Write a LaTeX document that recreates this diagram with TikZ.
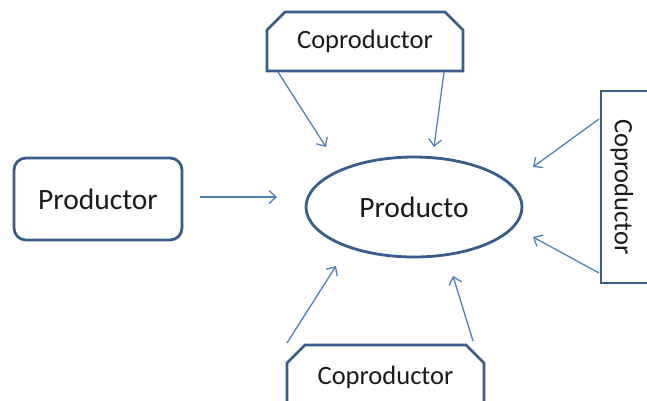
\documentclass[tikz,border=0pt]{standalone}
\usepackage{fontspec}
\setmainfont{Carlito}
\usetikzlibrary{shapes.geometric,shapes.misc,arrows.meta}
\definecolor{edgeblue}{RGB}{56,93,138}
\definecolor{arrowblue}{RGB}{79,129,189}
\definecolor{inktext}{RGB}{26,26,26}
\begin{document}
\begin{tikzpicture}[x=1pt,y=-1pt,
  boxline/.style={draw=edgeblue,line width=2.8pt,fill=white,inner sep=0pt,outer sep=0pt},
  flow/.style={draw=arrowblue,line width=1.3pt,
    -{Straight Barb[length=7pt,width=13pt,line width=1.3pt]}},
  bigtext/.style={font=\fontsize{29.5}{32}\selectfont,text=inktext},
  smalltext/.style={font=\fontsize{26.5}{30}\selectfont,text=inktext},
  coprod/.style={boxline,chamfered rectangle,
    chamfered rectangle xsep=9pt,chamfered rectangle ysep=9pt,
    chamfered rectangle corners={north west,north east}}
]
\path[use as bounding box] (0,0) rectangle (647,400);
\clip (0,0) rectangle (647,400);

% central product and main producer
\node[boxline,rounded corners=12pt,minimum width=168pt,minimum height=82pt,bigtext]
  (prod) at (98,199) {Productor};
\node[boxline,ellipse,minimum width=216pt,minimum height=100pt,bigtext]
  (pro) at (414,207) {Producto};

% co-producers
\node[coprod,minimum width=196pt,minimum height=59pt,smalltext]
  (ctop) at (365,41.5) {Coproductor};
\node[coprod,minimum width=197pt,minimum height=64pt,smalltext]
  (cbot) at (385.5,377) {Coproductor};
\node[coprod,rotate=-90,minimum width=192pt,minimum height=89pt]
  (cright) at (645.5,187) {};
\node[smalltext,rotate=-90] (crlabel) at (622,187) {Coproductor};

% arrow end points
\coordinate (a0s) at (200,197);  \coordinate (a0e) at (277,197);
\coordinate (a1s) at (278,72);   \coordinate (a1e) at (326,147);
\coordinate (a2s) at (444,72);   \coordinate (a2e) at (434,147);
\coordinate (a3s) at (599,119);  \coordinate (a3e) at (533,167);
\coordinate (a4s) at (599,273);  \coordinate (a4e) at (533,237);
\coordinate (a5s) at (287,343);  \coordinate (a5e) at (336,266);
\coordinate (a6s) at (473,341);  \coordinate (a6e) at (453,276);

% arrows towards the product
\draw[flow] (a0s) -- (a0e);
\draw[flow] (a1s) -- (a1e);
\draw[flow] (a2s) -- (a2e);
\draw[flow] (a3s) -- (a3e);
\draw[flow] (a4s) -- (a4e);
\draw[flow] (a5s) -- (a5e);
\draw[flow] (a6s) -- (a6e);
\end{tikzpicture}
\end{document}
